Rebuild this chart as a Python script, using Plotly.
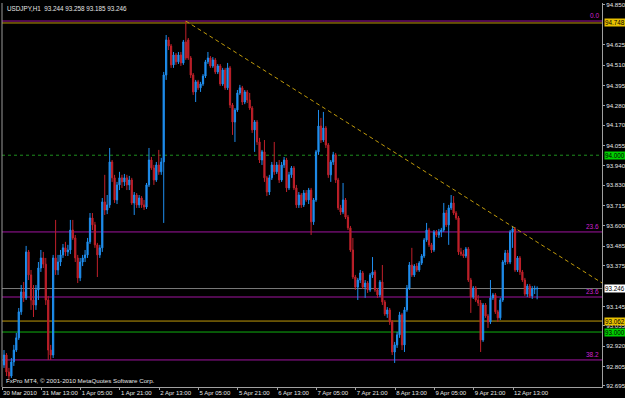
import plotly.graph_objects as go

SYMBOL_TITLE = "USDJPY,H1  93.244 93.258 93.185 93.246"
COPYRIGHT = "FxPro MT4, © 2001-2010 MetaQuotes Software Corp."

OPEN = [92.814,92.870,92.774,92.751,92.831,92.898,92.967,93.114,93.227,93.193,
93.453,93.323,93.181,93.153,93.238,93.362,93.419,93.384,93.181,92.898,
92.870,93.419,93.351,93.396,93.436,93.476,93.453,93.464,93.577,93.532,
93.419,93.306,93.396,93.419,93.436,93.510,93.645,93.606,93.493,93.436,
93.476,93.736,93.690,93.719,93.962,93.872,93.747,93.832,93.872,93.849,
93.872,93.832,93.860,93.730,93.775,93.719,93.758,93.719,93.707,93.832,
93.973,93.928,93.860,93.945,93.906,93.962,94.454,94.652,94.618,94.511,
94.567,94.528,94.567,94.522,94.641,94.652,94.550,94.454,94.358,94.415,
94.381,94.403,94.448,94.528,94.550,94.505,94.539,94.471,94.505,94.403,
94.482,94.381,94.494,94.284,94.188,94.256,94.352,94.381,94.301,94.358,
94.312,94.267,94.143,94.188,94.075,93.973,94.019,93.872,93.792,93.872,
93.945,93.906,93.945,93.860,93.945,93.973,93.815,93.889,93.928,93.815,
93.719,93.775,93.719,93.786,93.747,93.803,93.623,93.747,94.019,94.165,
94.086,94.154,94.058,93.889,93.962,94.002,93.860,93.702,93.679,93.747,
93.650,93.589,93.464,93.311,93.254,93.294,93.334,93.254,93.277,93.238,
93.323,93.340,93.238,93.210,93.283,93.170,93.102,93.125,93.057,92.887,
92.927,92.984,93.097,92.927,93.125,93.249,93.379,93.323,93.373,93.351,
93.390,93.430,93.521,93.577,93.493,93.464,93.566,93.549,93.566,93.577,
93.673,93.606,93.702,93.730,93.673,93.645,93.453,93.441,93.430,93.470,
93.294,93.198,93.249,93.181,93.164,92.955,93.153,93.091,93.057,93.193,
93.210,93.114,93.080,93.181,93.396,93.447,93.396,93.566,93.583,93.351,
93.419,93.340,93.294,93.215,93.260,93.204,93.243,93.244]

HIGH = [92.898,92.881,92.797,92.853,92.927,92.995,93.136,93.266,93.283,93.487,
93.464,93.351,93.266,93.266,93.396,93.464,93.453,93.419,93.204,92.927,
93.436,93.634,93.436,93.464,93.498,93.510,93.493,93.634,93.634,93.549,
93.436,93.419,93.436,93.464,93.532,93.673,93.673,93.623,93.504,93.493,
93.758,93.889,93.775,94.041,93.973,93.889,93.849,93.906,93.889,93.894,
93.889,93.883,93.872,93.792,93.786,93.775,93.769,93.747,93.843,94.041,
93.990,93.945,93.962,94.030,93.985,94.471,94.680,94.668,94.629,94.584,
94.578,94.584,94.584,94.652,94.759,94.663,94.561,94.465,94.426,94.426,
94.415,94.459,94.539,94.584,94.561,94.555,94.550,94.516,94.516,94.494,
94.494,94.522,94.505,94.295,94.267,94.369,94.398,94.392,94.369,94.369,
94.352,94.278,94.199,94.199,94.098,94.030,94.086,93.883,93.889,93.962,
94.075,93.962,93.973,93.962,93.990,93.985,93.906,93.939,93.939,93.832,
93.792,93.786,93.803,93.803,93.815,93.815,93.758,94.030,94.256,94.211,
94.245,94.165,94.069,93.973,94.019,94.013,93.872,93.719,93.843,93.758,
93.662,93.600,93.532,93.323,93.306,93.351,93.345,93.294,93.288,93.334,
93.424,93.351,93.249,93.294,93.379,93.181,93.141,93.136,93.068,92.944,
93.001,93.114,93.108,93.141,93.266,93.396,93.476,93.384,93.390,93.401,
93.441,93.532,93.617,93.589,93.504,93.577,93.577,93.583,93.589,93.730,
93.690,93.719,93.775,93.769,93.684,93.656,93.476,93.464,93.481,93.481,
93.306,93.260,93.260,93.210,93.181,93.164,93.164,93.102,93.294,93.221,
93.221,93.125,93.193,93.407,93.464,93.464,93.577,93.600,93.594,93.430,
93.430,93.351,93.306,93.272,93.272,93.260,93.262,93.258]

LOW = [92.797,92.751,92.729,92.740,92.808,92.887,92.955,93.097,93.170,93.181,
93.294,93.125,93.085,93.125,93.181,93.340,93.362,93.153,92.842,92.842,
92.853,93.323,93.323,93.373,93.419,93.430,93.430,93.441,93.521,93.396,
93.277,93.288,93.373,93.396,93.419,93.498,93.577,93.476,93.311,93.419,
93.453,93.662,93.667,93.702,93.849,93.730,93.724,93.803,93.815,93.826,
93.803,93.803,93.719,93.662,93.702,93.702,93.702,93.690,93.696,93.820,
93.917,93.832,93.849,93.889,93.889,93.617,94.426,94.595,94.494,94.494,
94.511,94.516,94.505,94.511,94.539,94.539,94.437,94.341,94.301,94.369,
94.358,94.392,94.437,94.516,94.494,94.494,94.459,94.459,94.392,94.392,
94.369,94.369,94.267,94.115,94.075,94.245,94.341,94.284,94.289,94.295,
94.256,94.126,94.019,94.058,93.956,93.945,93.849,93.769,93.775,93.860,
93.889,93.894,93.843,93.849,93.928,93.792,93.803,93.872,93.803,93.702,
93.702,93.702,93.707,93.736,93.724,93.549,93.606,93.736,94.002,94.069,
94.075,94.041,93.872,93.849,93.945,93.843,93.690,93.662,93.667,93.639,
93.577,93.453,93.300,93.238,93.181,93.277,93.243,93.193,93.221,93.227,
93.306,93.227,93.193,93.198,93.153,93.091,93.080,93.040,92.870,92.825,
92.910,92.967,92.898,92.887,93.114,93.238,93.311,93.311,93.340,93.340,
93.379,93.419,93.510,93.481,93.447,93.453,93.537,93.532,93.537,93.566,
93.594,93.493,93.690,93.662,93.634,93.436,93.430,93.419,93.419,93.283,
93.108,93.187,93.170,93.147,92.887,92.944,93.080,93.023,93.045,93.181,
93.102,93.057,93.068,93.170,93.379,93.384,93.384,93.476,93.340,93.340,
93.323,93.283,93.204,93.198,93.193,93.187,93.215,93.185]

CLOSE = [92.870,92.774,92.751,92.831,92.898,92.967,93.114,93.227,93.193,93.453,
93.323,93.181,93.153,93.238,93.362,93.419,93.384,93.181,92.898,92.870,
93.419,93.351,93.396,93.436,93.476,93.453,93.464,93.577,93.532,93.419,
93.306,93.396,93.419,93.436,93.510,93.645,93.606,93.493,93.436,93.476,
93.736,93.690,93.719,93.962,93.872,93.747,93.832,93.872,93.849,93.872,
93.832,93.860,93.730,93.775,93.719,93.758,93.719,93.707,93.832,93.973,
93.928,93.860,93.945,93.906,93.962,94.454,94.652,94.618,94.511,94.567,
94.528,94.567,94.522,94.641,94.550,94.550,94.454,94.358,94.415,94.381,
94.403,94.448,94.528,94.550,94.505,94.539,94.471,94.505,94.403,94.482,
94.381,94.494,94.284,94.188,94.256,94.352,94.381,94.301,94.358,94.312,
94.267,94.143,94.188,94.075,93.973,94.019,93.872,93.792,93.872,93.945,
93.906,93.945,93.860,93.945,93.973,93.815,93.889,93.928,93.815,93.719,
93.775,93.719,93.786,93.747,93.803,93.623,93.747,94.019,94.165,94.086,
94.154,94.058,93.889,93.962,94.002,93.860,93.702,93.679,93.747,93.650,
93.589,93.464,93.311,93.254,93.294,93.334,93.254,93.277,93.238,93.323,
93.340,93.238,93.210,93.283,93.170,93.102,93.125,93.057,92.887,92.927,
92.984,93.097,92.927,93.125,93.249,93.379,93.323,93.373,93.351,93.390,
93.430,93.521,93.577,93.493,93.464,93.566,93.549,93.566,93.577,93.673,
93.606,93.702,93.730,93.673,93.645,93.453,93.441,93.430,93.470,93.294,
93.198,93.249,93.181,93.164,92.955,93.153,93.091,93.057,93.193,93.210,
93.114,93.080,93.181,93.396,93.447,93.396,93.566,93.583,93.351,93.419,
93.340,93.294,93.215,93.260,93.204,93.243,93.244,93.246]

# time-axis labels (one every 16 hourly bars)
TICK_BARS = [0, 16, 32, 48, 64, 80, 96, 112, 128, 144, 160, 176, 192, 208]
TICK_LABELS = ["30 Mar 2010", "31 Mar 13:00", "1 Apr 05:00", "1 Apr 21:00",
               "2 Apr 13:00", "5 Apr 05:00", "5 Apr 21:00", "6 Apr 13:00",
               "7 Apr 05:00", "7 Apr 21:00", "8 Apr 13:00", "9 Apr 05:00",
               "9 Apr 21:00", "12 Apr 13:00"]

# visible price-scale labels (94.740 and 93.260 are hidden under value boxes)
PRICE_TICKS = [94.850, 94.625, 94.510, 94.395, 94.280, 94.170, 94.055,
               93.940, 93.830, 93.715, 93.600, 93.485, 93.375, 93.145,
               93.035, 92.920, 92.805, 92.695]

# horizontal levels
FIBO_LEVELS = [94.759, 93.566, 93.198, 92.842]
FIBO_NAMES = ["0.0", "23.6", "23.6", "38.2"]
GOLD_LEVELS = [94.748, 93.062]
GREEN_LEVELS = [94.000, 93.000]
BID = 93.246

# trendline anchors (bar index, price)
TREND_BARS = [74, 207]
TREND_PRICES = [94.759, 93.596]

UP = "#1f8ff0"
DN = "#c0202a"
MAG = "#a0149f"
GOLD = "#c09a0a"
GRN = "#10b010"
FONT = "Liberation Sans"
TXT = "#e6e6e6"

X_RANGE = [-0.82, 243.4]
Y_RANGE = [92.689, 94.861]

fig = go.Figure(go.Candlestick(
    x=list(range(len(CLOSE))), open=OPEN, high=HIGH, low=LOW, close=CLOSE,
    increasing=dict(line=dict(color=UP, width=1), fillcolor=UP),
    decreasing=dict(line=dict(color=DN, width=1), fillcolor=DN),
    whiskerwidth=0, hoverinfo="skip", showlegend=False))

def hline(p, color, dash="solid", width=1):
    fig.add_shape(type="line", xref="paper", x0=0, x1=1, yref="y", y0=p, y1=p,
                  line=dict(color=color, width=width, dash=dash), layer="below")

for p in FIBO_LEVELS:
    hline(p, MAG)
hline(GOLD_LEVELS[0], GOLD)
hline(GOLD_LEVELS[1], GOLD)
hline(GREEN_LEVELS[0], "#1e8e1e", "dot")
hline(GREEN_LEVELS[1], GRN)
hline(BID, "#7a7a7a")

# left border line
fig.add_shape(type="line", xref="paper", x0=0, x1=0, yref="paper", y0=0, y1=1,
              line=dict(color="#9a9a9a", width=1))

# trendline extended to right edge
slope = (TREND_PRICES[1] - TREND_PRICES[0]) / (TREND_BARS[1] - TREND_BARS[0])
x_end = X_RANGE[1]
y_end = TREND_PRICES[0] + slope * (x_end - TREND_BARS[0])
fig.add_shape(type="line", xref="x", yref="y", x0=TREND_BARS[0], y0=TREND_PRICES[0],
              x1=x_end, y1=y_end, line=dict(color=GOLD, width=1, dash="4px,3px"))

ann = []
for p, n in zip(FIBO_LEVELS, FIBO_NAMES):
    ann.append(dict(xref="paper", x=1, xanchor="right", xshift=-1, yref="y", y=p,
                    yanchor="bottom", text=n, showarrow=False,
                    font=dict(family=FONT, size=6.5, color="#d020d0")))

def box(p, bg, fg="#000000"):
    ann.append(dict(xref="paper", x=1, xanchor="left", xshift=2, yref="y", y=p,
                    yanchor="middle", text=f"{p:.3f}", showarrow=False, bgcolor=bg,
                    borderpad=0, font=dict(family=FONT, size=6.3, color=fg)))

box(GOLD_LEVELS[0], "#e8c000")
box(GREEN_LEVELS[0], "#00d000")
box(BID, "#ffffff")
box(GOLD_LEVELS[1], "#e8c000")
box(GREEN_LEVELS[1], "#00d000")

ann.append(dict(xref="paper", yref="paper", x=0, y=1, xanchor="left", yanchor="top",
                xshift=3, yshift=0, text=SYMBOL_TITLE, showarrow=False,
                font=dict(family=FONT, size=6.3, color=TXT)))
ann.append(dict(xref="paper", yref="paper", x=0, y=0, xanchor="left", yanchor="bottom",
                xshift=2, yshift=1, text=COPYRIGHT, showarrow=False,
                font=dict(family=FONT, size=6.2, color=TXT)))

fig.update_layout(
    width=625, height=398, margin=dict(l=2, r=23, t=3, b=11, autoexpand=False),
    paper_bgcolor="#000000", plot_bgcolor="#000000",
    annotations=ann, showlegend=False,
    xaxis=dict(range=X_RANGE, rangeslider=dict(visible=False), showgrid=False,
               zeroline=False, tickmode="array", automargin=False, tickangle=0,
               tickvals=[b - 0.8 for b in TICK_BARS], ticktext=TICK_LABELS,
               ticks="outside", ticklen=2, tickcolor="#a0a0a0",
               ticklabelposition="outside right",
               tickfont=dict(family=FONT, size=6, color=TXT),
               showline=True, linecolor="#a0a0a0", linewidth=1, fixedrange=True),
    yaxis=dict(range=Y_RANGE, side="right", showgrid=False, zeroline=False,
               tickmode="array", tickvals=PRICE_TICKS, automargin=False,
               ticktext=[f"{v:.3f}" for v in PRICE_TICKS],
               ticks="outside", ticklen=2, tickcolor="#a0a0a0",
               tickfont=dict(family=FONT, size=6.2, color=TXT),
               showline=True, linecolor="#a0a0a0", linewidth=1, fixedrange=True),
)

fig.write_html("out.html", config={"displayModeBar": False})
